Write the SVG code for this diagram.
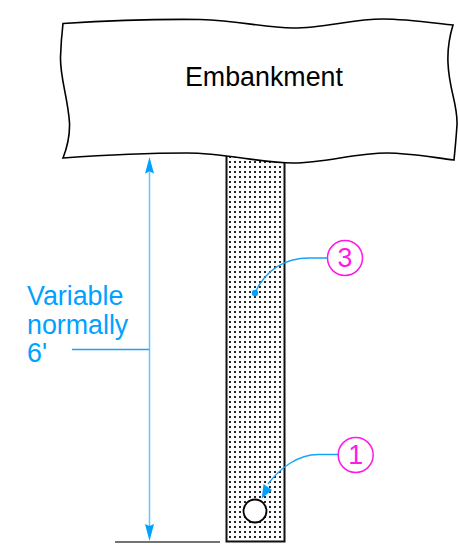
<svg xmlns="http://www.w3.org/2000/svg" width="458" height="550" viewBox="0 0 458 550">
<style>
text{font-family:"Liberation Sans",Arial,sans-serif;font-size:26.800px}
.dim{fill:none;stroke:#66c2ff;stroke-width:1.500}
.lead{fill:none;stroke:#1aa3f5;stroke-width:1.300}
.tag{fill:#fff;stroke:#ff19e6;stroke-width:1.500}
.tagt{fill:#ff19e6;text-anchor:middle}
.blue{fill:#00a2ff}
</style>
<defs>
<pattern id="dots" x="228" y="155" width="5" height="5" patternUnits="userSpaceOnUse">
<rect x="1" y="1" width="2" height="2" fill="#000" opacity=".85"/>
</pattern>
</defs>
<g id="stem">
<rect x="226.500" y="155" width="58" height="386.500" fill="url(#dots)"/>
<path d="M226.500 155V541.500H284.500V155" fill="none" stroke="#111" stroke-width="2"/>
</g>
<g id="embankment">
<path d="M63 23.500C110 20.500 160 19 200 19.500C240 20.500 265 28 293 28C325 28 352 19 383 19C405 19 430 22.500 453 25C449 38 447.500 52 448 63C449 90 458 105 457 125C456 140 455 150 454 160C430 157 408 153 387 153C355 153 325 163 293 163C260 163 225 153 187 153C145 153 105 155 63 158C67 148 70 138 69.500 123C68 98 60 78 60.500 57C61 42 62 32 63 23.500Z" fill="#fff" stroke="#000" stroke-width="1.600"/>
<text x="185" y="86">Embankment</text>
</g>
<g id="culvert">
<circle cx="255" cy="511" r="11.500" fill="#fff" stroke="#000" stroke-width="1.800"/>
</g>
<g id="ground">
<path d="M115 542H220" fill="none" stroke="#444" stroke-width="1.300"/>
</g>
<g id="connectors">
<path class="dim" d="M149.500 172V526"/>
<path class="blue" d="M149.500 157L154 173.500L149.500 171.500L145 173.500Z"/>
<path class="blue" d="M149.500 541L154 524L149.500 526L145 524Z"/>
<path class="lead" d="M72 349.500H149"/>
<path class="lead" d="M255 293C265 270 285 258 309 258H328"/>
<circle class="blue" cx="255" cy="293" r="3.200"/>
<path class="lead" d="M338 454.500H318C298 454.500 280 468 268 484"/>
<path class="blue" d="M261.700 498.500L263.500 484L272 490Z"/>
</g>
<g id="label-height">
<text class="blue" x="27" y="305">Variable</text>
<text class="blue" x="27" y="333.500">normally</text>
<text class="blue" x="27" y="362">6'</text>
</g>
<g id="tag-3">
<circle class="tag" cx="345" cy="258" r="17.500"/>
<text class="tagt" x="345" y="267">3</text>
</g>
<g id="tag-1">
<circle class="tag" cx="355.700" cy="455" r="17.500"/>
<text class="tagt" x="355.700" y="464">1</text>
</g>
</svg>
